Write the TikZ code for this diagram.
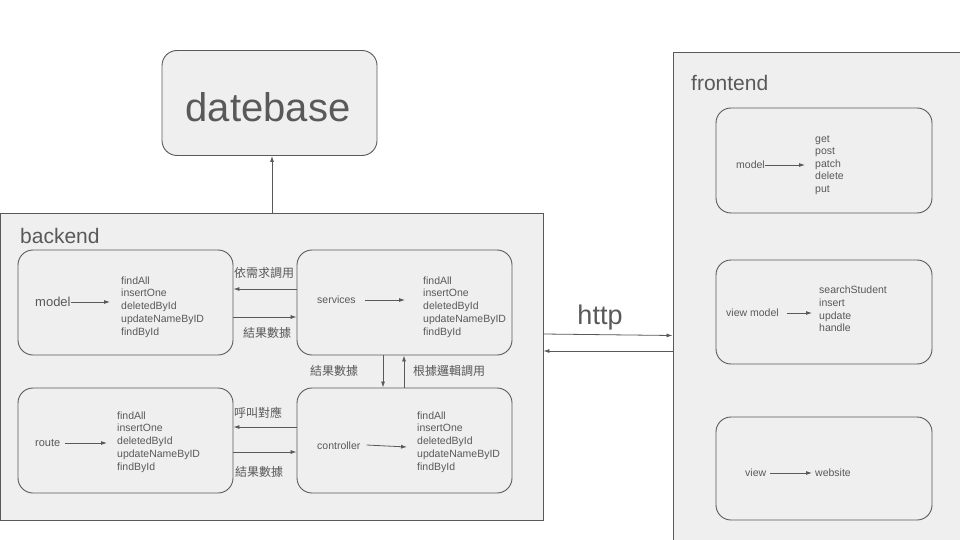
\documentclass[tikz,border=0pt]{standalone}
\usepackage{fontspec}
\setmainfont{Liberation Sans}
\newfontfamily\cjk{Noto Sans CJK TC}
\usetikzlibrary{arrows.meta}
\definecolor{lc}{HTML}{595959}
\definecolor{tc}{HTML}{595959}
\definecolor{bg}{HTML}{EFEFEF}
\newcommand{\fs}[2]{\fontsize{#1}{#2}\selectfont}
\begin{document}
\begin{tikzpicture}[x=1pt,y=-1pt,
  box/.style={draw=lc, fill=bg, rounded corners=15pt, line width=0.9pt, inner sep=0pt,
    minimum width=215pt, minimum height=105pt},
  panel/.style={draw=lc, fill=bg, line width=0.9pt, inner sep=0pt},
  arr/.style={-{Latex[length=6pt,width=4pt]}, draw=lc, line width=0.8pt},
  lbl/.style={text=tc, inner sep=0pt, anchor=west, font=\fs{10.5}{12.8}},
  lst/.style={text=tc, inner sep=0pt, anchor=west, align=left, font=\fs{10.5}{12.8}},
  cj/.style={text=tc, inner sep=0pt, font=\cjk\fs{12}{14}},
  title/.style={text=tc, inner sep=0pt, anchor=west, font=\fs{21}{24}}]
\useasboundingbox (0,0) rectangle (960,540);
\fill[white] (0,0) rectangle (960,540);

% panels
\node[box, minimum width=215pt, minimum height=105pt] (db) at (269.5,103) {};
\node[text=tc, inner sep=0pt, font=\fs{40}{44}] (dbt) at (268,107) {datebase};
\node[panel, minimum width=543pt, minimum height=307pt] (backend) at (271.5,366.5) {};
\node[panel, minimum width=300pt, minimum height=500pt] (frontend) at (823,302) {};
\node[title] (bt) at (20,236) {backend};
\node[title] (ft) at (691,83) {frontend};

% backend boxes
\node[box] (bmodel) at (125.5,302.5) {};
\node[box] (bserv) at (404.5,302.5) {};
\node[box] (broute) at (125.5,440.5) {};
\node[box] (bctrl) at (404.5,440.5) {};

% frontend boxes
\node[box, minimum width=216pt, minimum height=105pt] (fmodel) at (824,160.5) {};
\node[box, minimum width=216pt, minimum height=104pt] (fvm) at (824,312) {};
\node[box, minimum width=216pt, minimum height=103pt] (fview) at (824,468.5) {};

% backend model
\node[lbl, font=\fs{13}{15}] (mt) at (35,302) {model};
\node[lst] (ml) at (121,307) {findAll\\insertOne\\deletedById\\updateNameByID\\findById};
\draw[arr] (mt.east) -- ([xshift=-11pt]ml.west |- mt.east);

% services
\node[lbl] (st) at (317,300) {services};
\node[lst] (sl) at (423,307) {findAll\\insertOne\\deletedById\\updateNameByID\\findById};
\draw[arr] ([xshift=9pt]st.east) -- ([xshift=-18pt]sl.west |- st.east);

% route
\node[lbl, font=\fs{11}{13}] (rt) at (35,443) {route};
\node[lst] (rl) at (117,442) {findAll\\insertOne\\deletedById\\updateNameByID\\findById};
\draw[arr] ([xshift=5pt]rt.east) -- ([xshift=-10pt]rl.west |- rt.east);

% controller
\node[lbl] (ct) at (317,446) {controller};
\node[lst] (cl) at (417,442) {findAll\\insertOne\\deletedById\\updateNameByID\\findById};
\draw[arr] ([xshift=6pt,yshift=1pt]ct.east) -- ([xshift=-10pt,yshift=-1pt]cl.west |- ct.east);

% frontend model
\node[lbl] (fmt) at (736,165) {model};
\node[lst, font=\fs{10.5}{12.5}] (fml) at (815,165) {get\\post\\patch\\delete\\put};
\draw[arr] (fmt.east) -- ([xshift=-10pt]fml.west |- fmt.east);

% view model
\node[lbl] (fvt) at (726,313) {view model};
\node[lst, font=\fs{10.5}{12.7}] (fvl) at (819,309) {searchStudent\\insert\\update\\handle};
\draw[arr] ([xshift=8pt]fvt.east) -- ([xshift=-7pt]fvl.west |- fvt.east);

% view
\node[lbl] (fwt) at (745,473) {view};
\node[lbl] (fwl) at (815,473) {website};
\draw[arr] ([xshift=4pt]fwt.east) -- ([xshift=-3pt]fwl.west);

% model <-> services
\draw[arr] (bserv.west |- 0,289) -- (bmodel.east |- 0,289);
\draw[arr] (bmodel.east |- 0,317) -- (bserv.west |- 0,317);
\node[cj] (l1) at (264,273) {依需求調用};
\node[cj] (l2) at (267,333) {結果數據};

% services <-> controller
\draw[arr] (bserv.south -| 383,0) -- (bctrl.north -| 383,0);
\draw[arr] (bctrl.north -| 404,0) -- (bserv.south -| 404,0);
\node[cj] (l3) at (334,371) {結果數據};
\node[cj] (l4) at (449,371) {根據邏輯調用};

% route <-> controller
\draw[arr] (bctrl.west |- 0,427) -- (broute.east |- 0,427);
\draw[arr] (broute.east |- 0,452) -- (bctrl.west |- 0,452);
\node[cj] (l5) at (258,413) {呼叫對應};
\node[cj] (l6) at (259,472) {結果數據};

% backend -> database
\draw[arr] (backend.north -| 272,0) -- (db.south -| 272,0);

% http
\draw[arr] (backend.east |- 0,334) -- (frontend.west |- 0,335.5);
\draw[arr] (frontend.west |- 0,351) -- (backend.east |- 0,351);
\node[text=tc, inner sep=0pt, font=\fs{27}{30}] (http) at (600,318) {http};
\end{tikzpicture}
\end{document}
